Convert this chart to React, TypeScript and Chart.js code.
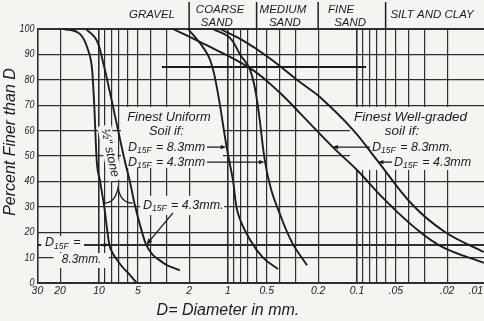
import React, { useEffect, useRef } from "react";
import { Chart, registerables } from "chart.js";
Chart.register(...registerables);

// ---- data: grain size D (mm) and percent finer than D ----
const STONE_FINE_D = [18.7, 14.0, 12.2, 11.3, 10.9, 10.4, 9.84, 9.14, 8.3, 7.85, 7.51, 6.63, 5.74, 5.1];
const STONE_FINE_P = [100, 98, 92, 84, 71, 48, 40.5, 30.7, 15, 11.8, 10.2, 6.5, 3.1, 0];
const STONE_COARSE_D = [12.6, 10.2, 9.0, 7.9, 7.1, 6.3, 5.75, 5.27, 4.73, 4.3, 3.19, 2.36];
const STONE_COARSE_P = [100, 94.5, 84, 71, 60, 48, 39.8, 30.7, 21.6, 15, 8, 5];
const UNIFORM_83_D = [2.04, 1.65, 1.38, 1.22, 1.02, 0.915, 0.837, 0.675, 0.535, 0.41];
const UNIFORM_83_P = [100, 94.5, 88, 77, 53, 40.5, 27.5, 17, 10, 5.5];
const UNIFORM_43_D = [1.31, 0.965, 0.807, 0.675, 0.596, 0.517, 0.464, 0.402, 0.319, 0.244];
const UNIFORM_43_P = [100, 96.5, 90, 84, 72, 48, 37, 28, 16, 7];
const WELL_83_D = [2.67, 1.65, 0.675, 0.402, 0.277, 0.154, 0.1, 0.0607, 0.0355, 0.0219, 0.0104];
const WELL_83_P = [100, 94.9, 84.6, 75.2, 66.9, 53.5, 44.5, 32.7, 21.7, 14.2, 7.9];
const WELL_43_D = [1.15, 0.779, 0.49, 0.277, 0.194, 0.107, 0.07, 0.037, 0.0208, 0.0104];
const WELL_43_P = [100, 95.7, 89, 79.1, 73.2, 60.2, 48.4, 30.7, 20.1, 12.2];
const LIMIT_85_D = [3.25, 0.085];
const LIMIT_85_P = [85, 85];

const X_GRID = [30, 20, 10, 9, 8, 7, 6, 5, 4, 3, 2, 1, 0.9, 0.8, 0.7, 0.6, 0.5, 0.4, 0.3, 0.2, 0.1,
  0.09, 0.08, 0.07, 0.06, 0.05, 0.04, 0.03, 0.02, 0.01];
const X_TICKS = [30, 20, 10, 5, 2, 1, 0.5, 0.2, 0.1, 0.05, 0.02, 0.01];
const X_TICK_LABELS = ["30", "20", "10", "5", "2", "1", "0.5", "0.2", "0.1", ".05", ".02", ".01"];
const Y_GRID = [0, 10, 15, 20, 30, 40, 50, 60, 70, 80, 90, 100];
const Y_TICKS = [0, 10, 20, 30, 40, 50, 60, 70, 80, 90, 100];
const ZONE_BOUNDS = [2, 0.6, 0.2, 0.06];
const ZONE_TEXT = ["GRAVEL", "COARSE", "SAND", "MEDIUM", "SAND", "FINE", "SAND", "SILT AND CLAY"];
const ZONE_D = [3.88, 1.15, 1.22, 0.375, 0.362, 0.133, 0.113, 0.0262];
const ZONE_P = [105.5, 107.5, 102.4, 107.5, 102.4, 107.5, 102.4, 105.5];

const PAPER = "#f4f4f1";
const INK = "#1c1c1c";
const FONT = '"Liberation Sans", "DejaVu Sans", sans-serif';

type Ctx = CanvasRenderingContext2D;

function txt(ctx: Ctx, s: string, x: number, y: number, size: number, align: CanvasTextAlign = "center", sx = 1) {
  ctx.save();
  ctx.font = `italic ${size}px ${FONT}`;
  ctx.textBaseline = "middle";
  ctx.textAlign = align;
  ctx.fillStyle = INK;
  ctx.translate(x, y);
  ctx.scale(sx, 1);
  ctx.fillText(s, 0, 0);
  ctx.restore();
}

function dLabel(ctx: Ctx, x: number, y: number, size: number, rest: string) {
  ctx.save();
  ctx.fillStyle = INK;
  ctx.textBaseline = "middle";
  ctx.textAlign = "left";
  ctx.font = `italic ${size}px ${FONT}`;
  const wD = ctx.measureText("D").width;
  ctx.fillText("D", x, y);
  ctx.font = `italic ${size * 0.68}px ${FONT}`;
  const wS = ctx.measureText("15F").width;
  ctx.fillText("15F", x + wD, y + size * 0.32);
  ctx.font = `italic ${size}px ${FONT}`;
  ctx.fillText(rest, x + wD + wS + 1, y);
  const end = x + wD + wS + 1 + ctx.measureText(rest).width;
  ctx.restore();
  return end;
}

function arrow(ctx: Ctx, x1: number, y1: number, x2: number, y2: number, head = 6) {
  const a = Math.atan2(y2 - y1, x2 - x1);
  ctx.save();
  ctx.strokeStyle = INK;
  ctx.fillStyle = INK;
  ctx.lineWidth = 1.3;
  ctx.beginPath();
  ctx.moveTo(x1, y1);
  ctx.lineTo(x2 - Math.cos(a) * head * 0.6, y2 - Math.sin(a) * head * 0.6);
  ctx.stroke();
  ctx.beginPath();
  ctx.moveTo(x2, y2);
  ctx.lineTo(x2 - Math.cos(a - 0.35) * head, y2 - Math.sin(a - 0.35) * head);
  ctx.lineTo(x2 - Math.cos(a + 0.35) * head, y2 - Math.sin(a + 0.35) * head);
  ctx.closePath();
  ctx.fill();
  ctx.restore();
}

// masks (data units: D from, D to, P from, P to) where lettering interrupts the grid
const MASKS = [
  [6.75, 1.093, 69.3, 45.3],
  [4.8, 1.07, 34.3, 26.8],
  [28, 13.05, 18.5, 12.2],
  [22.5, 8.4, 11.8, 5.9],
  [0.1135, 0.0095, 69.3, 44.5],
];

const paperPlugin = {
  id: "paper",
  beforeDraw(chart: any) {
    const { ctx, width, height } = chart;
    ctx.save();
    ctx.fillStyle = PAPER;
    ctx.fillRect(0, 0, width, height);
    ctx.restore();
  },
  beforeDatasetsDraw(chart: any) {
    const { ctx } = chart;
    const X = (d: number) => chart.scales.x.getPixelForValue(d);
    const Y = (p: number) => chart.scales.y.getPixelForValue(p);
    ctx.save();
    ctx.fillStyle = PAPER;
    MASKS.forEach(([d1, d2, p1, p2]) => {
      ctx.fillRect(X(d1), Y(p1), X(d2) - X(d1), Y(p2) - Y(p1));
    });
    ctx.restore();
  },
  afterDatasetsDraw(chart: any) {
    const { ctx, chartArea } = chart;
    const X = (d: number) => chart.scales.x.getPixelForValue(d);
    const Y = (p: number) => chart.scales.y.getPixelForValue(p);

    Y_TICKS.forEach((v) => txt(ctx, String(v), chartArea.left - 3, Y(v), 10.5, "right", 0.85));
    X_TICKS.forEach((v, i) => {
      let x = X(v);
      let align: CanvasTextAlign = "center";
      if (x > 476) { x = 483; align = "right"; }
      txt(ctx, X_TICK_LABELS[i], x, chartArea.bottom + 8, 11, align, 0.95);
    });
    ctx.save();
    ctx.translate(chartArea.left - 27, Y(55.5));
    ctx.rotate(-Math.PI / 2);
    txt(ctx, "Percent Finer than D", 0, 0, 16, "center", 1);
    ctx.restore();
    txt(ctx, "D= Diameter in mm.", X(1), chartArea.bottom + 28, 16, "center", 1);

    ctx.save();
    ctx.strokeStyle = INK;
    ctx.lineWidth = 1.5;
    ZONE_BOUNDS.forEach((d) => {
      ctx.beginPath();
      ctx.moveTo(X(d), Y(110.6));
      ctx.lineTo(X(d), chartArea.top);
      ctx.stroke();
    });
    ctx.restore();
    ZONE_TEXT.forEach((s, i) => txt(ctx, s, X(ZONE_D[i]), Y(ZONE_P[i]), 11.5, "center", 1));

    // uniform soil block
    txt(ctx, "Finest Uniform", X(2.87), Y(65.4), 13.5, "center", 0.95);
    txt(ctx, "Soil if:", X(3.0), Y(59.8), 13.5, "center", 0.95);
    let e = dLabel(ctx, X(5.96), Y(53.5), 12.5, " = 8.3mm");
    arrow(ctx, e + 2, Y(53.5), X(1.03), Y(53.5));
    e = dLabel(ctx, X(5.96), Y(47.6), 12.5, " = 4.3mm");
    arrow(ctx, e + 2, Y(47.6), X(0.52), Y(47.6));

    // 1/2" stone
    ctx.save();
    ctx.translate(X(8.22), Y(51.2));
    ctx.rotate((78 * Math.PI) / 180);
    ctx.fillStyle = PAPER;
    ctx.fillRect(-28, -7, 56, 14);
    txt(ctx, '\u00BD" stone', 0, 0, 12.5, "center", 1);
    ctx.restore();
    // brace between the two stone limits
    ctx.save();
    ctx.strokeStyle = INK;
    ctx.lineWidth = 1.3;
    const bl = [X(9.1), Y(31.5)], bp = [X(7.12), Y(37.4)], br = [X(5.5), Y(31.5)];
    ctx.beginPath();
    ctx.moveTo(bl[0], bl[1]);
    ctx.quadraticCurveTo(bp[0] - 3, bl[1], bp[0], bp[1]);
    ctx.quadraticCurveTo(bp[0] + 3, br[1], br[0], br[1]);
    ctx.stroke();
    ctx.restore();

    dLabel(ctx, X(4.56), Y(30.7), 12.5, " = 4.3mm.");
    arrow(ctx, X(2.67), Y(27.6), X(4.3), Y(15), 7);

    dLabel(ctx, X(26.2), Y(15.9), 12.5, " =");
    txt(ctx, "8.3mm.", X(19.4), Y(9.2), 12.5, "left", 0.95);
    arrow(ctx, X(9.6), Y(15), X(8.3), Y(15), 6);

    // well graded block
    txt(ctx, "Finest Well-graded", X(0.0385), Y(65.4), 13.5, "center", 1);
    txt(ctx, "soil if:", X(0.0448), Y(59.8), 13.5, "center", 1);
    dLabel(ctx, X(0.0764), Y(53.5), 12.5, " = 8.3mm.");
    arrow(ctx, X(0.0764) - 2, Y(53.5), X(0.155), Y(53.5));
    dLabel(ctx, X(0.0516), Y(47.6), 12.5, " = 4.3mm");
    arrow(ctx, X(0.0516) - 2, Y(47.6), X(0.069), Y(47.6));
  },
};

const mk = (d: number[], p: number[]) => d.map((v, i) => ({ x: v, y: p[i] }));
const CURVES: [number[], number[], boolean][] = [
  [STONE_FINE_D, STONE_FINE_P, true],
  [STONE_COARSE_D, STONE_COARSE_P, true],
  [UNIFORM_83_D, UNIFORM_83_P, false],
  [UNIFORM_43_D, UNIFORM_43_P, false],
  [WELL_83_D, WELL_83_P, false],
  [WELL_43_D, WELL_43_P, false],
];

export default function App() {
  const ref = useRef<HTMLCanvasElement>(null);
  useEffect(() => {
    const datasets: any[] = CURVES.map(([d, p, mono]) => ({
      data: mk(d, p),
      borderColor: INK,
      borderWidth: 1.9,
      pointRadius: 0,
      cubicInterpolationMode: mono ? "monotone" : "default",
      tension: 0.4,
      fill: false,
      clip: 4,
    }));
    datasets.push({
      data: mk(LIMIT_85_D, LIMIT_85_P),
      borderColor: INK,
      borderWidth: 2,
      pointRadius: 0,
      tension: 0,
      fill: false,
    });
    const chart = new Chart(ref.current as HTMLCanvasElement, {
      type: "line",
      data: { datasets },
      options: {
        animation: false,
        responsive: true,
        maintainAspectRatio: false,
        layout: { padding: { left: 37.4, top: 29, right: 4, bottom: 38 } },
        plugins: { legend: { display: false }, tooltip: { enabled: false } },
        scales: {
          x: {
            type: "logarithmic",
            reverse: true,
            min: 0.01,
            max: 30,
            ticks: { display: false },
            border: { display: false },
            grid: {
              drawTicks: false,
              color: "#2e2e2e",
              lineWidth: (c: any) => ([30, 10, 1, 0.1].includes(c.tick && c.tick.value) ? 1.6 : 1.2),
            },
            afterBuildTicks: (s: any) => {
              s.ticks = X_GRID.map((v) => ({ value: v }));
            },
          },
          y: {
            type: "linear",
            min: 0,
            max: 100,
            ticks: { display: false },
            border: { display: false },
            grid: {
              drawTicks: false,
              color: "#2e2e2e",
              lineWidth: (c: any) => (c.tick && (c.tick.value === 15 || c.tick.value === 0 || c.tick.value === 100) ? 2 : 1.3),
            },
            afterBuildTicks: (s: any) => {
              s.ticks = Y_GRID.map((v) => ({ value: v }));
            },
          },
        },
      } as any,
      plugins: [paperPlugin],
    } as any);
    return () => chart.destroy();
  }, []);
  return (
    <div style={{ position: "fixed", left: 0, top: 0, width: 484, height: 321, overflow: "hidden", background: PAPER }}>
      <div style={{ position: "relative", width: 490, height: 321 }}>
        <canvas ref={ref} />
      </div>
    </div>
  );
}
